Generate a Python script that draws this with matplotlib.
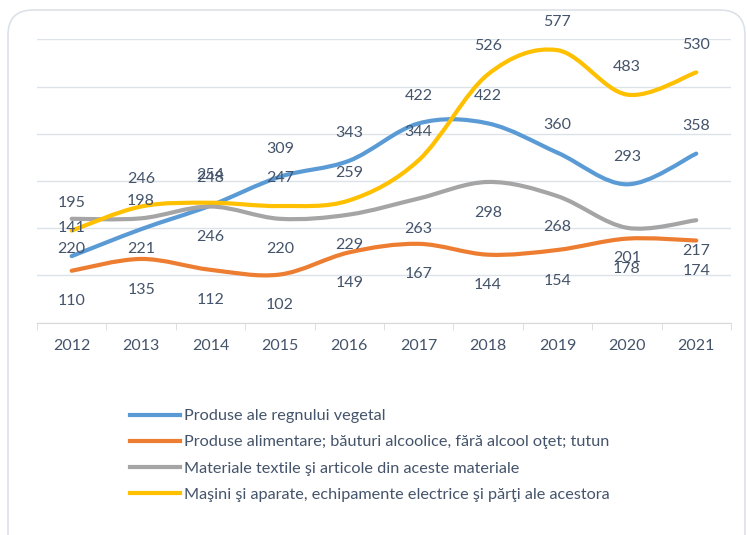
import matplotlib.pyplot as plt
import numpy as np
from matplotlib.path import Path
from matplotlib.patches import PathPatch, FancyBboxPatch
from matplotlib.lines import Line2D

plt.rcParams['font.family'] = ['Lato', 'DejaVu Sans']

years = ['2012', '2013', '2014', '2015', '2016', '2017', '2018', '2019', '2020', '2021']
vegetal = [141, 198, 248, 309, 343, 422, 422, 360, 293, 358]
alimentare = [110, 135, 112, 102, 149, 167, 144, 154, 178, 174]
textile = [220, 221, 246, 220, 229, 263, 298, 268, 201, 217]
masini = [195, 246, 254, 247, 259, 344, 526, 577, 483, 530]

series_names = [
    'Produse ale regnului vegetal',
    'Produse alimentare; băuturi alcoolice, fără alcool oţet; tutun',
    'Materiale textile şi articole din aceste materiale',
    'Maşini şi aparate, echipamente electrice şi părţi ale acestora',
]
series_values = [vegetal, alimentare, textile, masini]
colors = ['#5B9BD5', '#ED7D31', '#A5A5A5', '#FFC000']
# data label offset in points: above for blue/yellow, below for orange/gray
label_dy = [20, -22, -22, 20]

text_color = '#44546A'
grid_color = '#DDE2E8'


def smooth_path(x, y):
    # Excel-like smoothed line (Catmull-Rom as cubic Bezier)
    pts = np.column_stack([x, y]).astype(float)
    n = len(pts)
    verts = [pts[0]]
    codes = [Path.MOVETO]
    for i in range(n - 1):
        p0 = pts[i - 1] if i > 0 else pts[i]
        p3 = pts[i + 2] if i + 2 < n else pts[i + 1]
        c1 = pts[i] + (pts[i + 1] - p0) / 6
        c2 = pts[i + 1] - (p3 - pts[i]) / 6
        verts += [c1, c2, pts[i + 1]]
        codes += [Path.CURVE4] * 3
    return Path(verts, codes)


fig = plt.figure(figsize=(7.47, 5.35), dpi=100)

# rounded chart border
border = FancyBboxPatch((0.08, -0.3), 7.37, 5.55,
                        boxstyle='round,pad=0,rounding_size=0.25',
                        transform=fig.dpi_scale_trans, fill=False,
                        edgecolor=grid_color, linewidth=1.2)
fig.patches.append(border)

ax = fig.add_axes([0.0495, 0.3968, 0.929, 0.5297])
x = np.arange(len(years))

for vals, col, dy in zip(series_values, colors, label_dy):
    patch = PathPatch(smooth_path(x, vals), fill=False, edgecolor=col,
                      linewidth=3, capstyle='round', zorder=3)
    ax.add_patch(patch)
    for xi, v in zip(x, vals):
        ax.annotate(str(v), (xi, v), xytext=(0, dy), textcoords='offset points',
                    ha='center', va='center', fontsize=11.5, color=text_color,
                    zorder=5)

ax.set_xlim(-0.5, len(years) - 0.5)
ax.set_ylim(0, 600)
ax.set_yticks(np.arange(0, 601, 100))
ax.set_yticklabels([])
ax.grid(axis='y', color=grid_color, linewidth=1)
ax.set_axisbelow(True)
for s in ['left', 'right', 'top']:
    ax.spines[s].set_visible(False)
ax.spines['bottom'].set_color('#D9D9D9')
ax.tick_params(axis='y', length=0)
ax.set_xticks(x)
ax.set_xticklabels(years, fontsize=11.5, color=text_color)
ax.tick_params(axis='x', which='major', length=0, pad=12)
ax.set_xticks(np.arange(-0.5, len(years)), minor=True)
ax.tick_params(axis='x', which='minor', length=5, color='#D9D9D9', direction='out')

handles = [Line2D([0], [0], color=c, linewidth=3) for c in colors]
fig.legend(handles, series_names, loc='upper left',
           bbox_to_anchor=(0.174, 0.2355), frameon=False, fontsize=11.7,
           labelcolor=text_color, handlelength=3.05, handletextpad=0.3,
           labelspacing=0.72, borderpad=0, borderaxespad=0)

plt.savefig('out.png', dpi=100)
